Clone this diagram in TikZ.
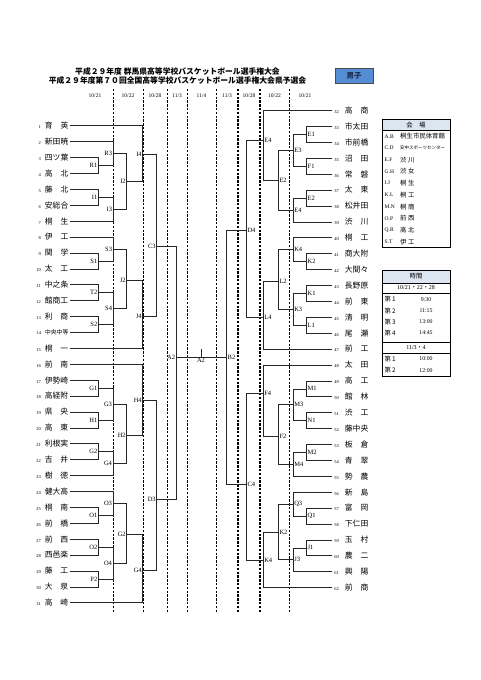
\documentclass[tikz,border=0pt]{standalone}
\usepackage{fontspec}
\setmainfont{Liberation Serif}
\newfontfamily\jp{Noto Sans CJK JP}
\usetikzlibrary{positioning}
\newcommand{\tnum}[1]{{\rmfamily\fontsize{4.5}{5}\selectfont #1}}
\definecolor{hdrblue}{RGB}{220,230,241}
\definecolor{boyblue}{RGB}{84,141,212}
\definecolor{boytext}{RGB}{30,45,80}

\begin{document}
\begin{tikzpicture}[x=1pt,y=-1pt,
  lteam/.style={anchor=east,inner xsep=1.5pt,inner ysep=0pt,font=\jp\fontsize{7.8}{8}\selectfont},
  rteam/.style={anchor=west,inner xsep=2.5pt,inner ysep=0pt,font=\jp\fontsize{7.8}{8}\selectfont},
  llab/.style={anchor=east,inner sep=0.8pt,font=\fontsize{6.5}{7}\selectfont},
  rlab/.style={anchor=west,inner sep=0.8pt,font=\fontsize{6.5}{7}\selectfont},
  br/.style={to path={-| (\tikztotarget)}},
  bline/.style={draw=black!85,line width=0.55pt},
  thindash/.style={draw=black,line width=0.7pt,dash pattern=on 2.4pt off 1.4pt},
  thickdash/.style={thindash,line width=1.2pt},
  datelab/.style={font=\fontsize{5.5}{6}\selectfont},
  vcode/.style={anchor=west,inner sep=0pt,font=\fontsize{5.5}{6}\selectfont},
  vname/.style={anchor=west,inner sep=0pt,font=\jp\fontsize{6.4}{7}\selectfont},
  ]
\useasboundingbox (0,0) rectangle (481,680);
\fill[white] (0,0) rectangle (481,680);

% title
\node[font=\jp\bfseries\fontsize{7.8}{8}\selectfont] (title1) at (177.5,71.7) {平成２９年度 群馬県高等学校バスケットボール選手権大会};
\node[font=\jp\bfseries\fontsize{7.8}{8}\selectfont] (title2) at (177.5,80.4) {平成２９年度第７０回全国高等学校バスケットボール選手権大会県予選会};
\node[draw=black!70,fill=boyblue,minimum width=38pt,minimum height=15pt,inner sep=0pt,
  font=\jp\bfseries\fontsize{7.5}{8}\selectfont,text=boytext] (boys) at (354,75.5) {男子};

% dates
\node[datelab] (d1) at (95,96) {10/21};
\node[datelab] (d2) at (128,96) {10/22};
\node[datelab] (d3) at (155,96) {10/28};
\node[datelab] (d4) at (177,96) {11/3};
\node[datelab] (d5) at (201.5,96) {11/4};
\node[datelab] (d6) at (227,96) {11/3};
\node[datelab] (d7) at (249,96) {10/28};
\node[datelab] (d8) at (274.5,96) {10/22};
\node[datelab] (d9) at (305,96) {10/21};

% day separators
\draw[thickdash] (113.5,89) -- (113.5,612);
\draw[thickdash] (143.5,89) -- (143.5,612);
\draw[thindash] (167,89) -- (167,612);
\draw[thindash] (187,89) -- (187,612);
\draw[thindash] (216,89) -- (216,612);
\draw[thickdash] (238,89) -- (238,612);
\draw[thickdash] (260,89) -- (260,612);
\draw[thickdash] (289.5,89) -- (289.5,612);

% left teams
\node[lteam] (t1) at (70,125.7) {\tnum{1}\hspace{4pt}育　英};
\node[lteam] (t2) at (70,141.6) {\tnum{2}\hspace{4pt}新田暁};
\node[lteam] (t3) at (70,157.5) {\tnum{3}\hspace{4pt}四ツ葉};
\node[lteam] (t4) at (70,173.4) {\tnum{4}\hspace{4pt}高　北};
\node[lteam] (t5) at (70,189.3) {\tnum{5}\hspace{4pt}藤　北};
\node[lteam] (t6) at (70,205.2) {\tnum{6}\hspace{4pt}安総合};
\node[lteam] (t7) at (70,221.1) {\tnum{7}\hspace{4pt}桐　生};
\node[lteam] (t8) at (70,237.0) {\tnum{8}\hspace{4pt}伊　工};
\node[lteam] (t9) at (70,252.9) {\tnum{9}\hspace{4pt}関　学};
\node[lteam] (t10) at (70,268.8) {\tnum{10}\hspace{4pt}太　工};
\node[lteam] (t11) at (70,284.7) {\tnum{11}\hspace{4pt}中之条};
\node[lteam] (t12) at (70,300.6) {\tnum{12}\hspace{4pt}館商工};
\node[lteam] (t13) at (70,316.5) {\tnum{13}\hspace{4pt}利　商};
\node[lteam] (t14) at (70,332.4) {\tnum{14}\hspace{4pt}{\fontsize{5.8}{6}\selectfont 中央中等}};
\node[lteam] (t15) at (70,348.3) {\tnum{15}\hspace{4pt}桐　一};
\node[lteam] (t16) at (70,364.2) {\tnum{16}\hspace{4pt}前　南};
\node[lteam] (t17) at (70,380.1) {\tnum{17}\hspace{4pt}伊勢崎};
\node[lteam] (t18) at (70,396.0) {\tnum{18}\hspace{4pt}高経附};
\node[lteam] (t19) at (70,411.9) {\tnum{19}\hspace{4pt}県　央};
\node[lteam] (t20) at (70,427.8) {\tnum{20}\hspace{4pt}高　東};
\node[lteam] (t21) at (70,443.7) {\tnum{21}\hspace{4pt}利根実};
\node[lteam] (t22) at (70,459.6) {\tnum{22}\hspace{4pt}吉　井};
\node[lteam] (t23) at (70,475.5) {\tnum{23}\hspace{4pt}樹　徳};
\node[lteam] (t24) at (70,491.4) {\tnum{24}\hspace{4pt}健大高};
\node[lteam] (t25) at (70,507.3) {\tnum{25}\hspace{4pt}桐　南};
\node[lteam] (t26) at (70,523.2) {\tnum{26}\hspace{4pt}前　橋};
\node[lteam] (t27) at (70,539.1) {\tnum{27}\hspace{4pt}前　西};
\node[lteam] (t28) at (70,555.0) {\tnum{28}\hspace{4pt}西邑楽};
\node[lteam] (t29) at (70,570.9) {\tnum{29}\hspace{4pt}藤　工};
\node[lteam] (t30) at (70,586.8) {\tnum{30}\hspace{4pt}大　泉};
\node[lteam] (t31) at (70,602.7) {\tnum{31}\hspace{4pt}高　崎};

% right teams
\node[rteam] (t32) at (331.7,110.5) {\tnum{32}\hspace{6pt}高　商};
\node[rteam] (t33) at (331.7,126.4) {\tnum{33}\hspace{6pt}市太田};
\node[rteam] (t34) at (331.7,142.3) {\tnum{34}\hspace{6pt}市前橋};
\node[rteam] (t35) at (331.7,158.2) {\tnum{35}\hspace{6pt}沼　田};
\node[rteam] (t36) at (331.7,174.1) {\tnum{36}\hspace{6pt}常　磐};
\node[rteam] (t37) at (331.7,190.0) {\tnum{37}\hspace{6pt}太　東};
\node[rteam] (t38) at (331.7,205.9) {\tnum{38}\hspace{6pt}松井田};
\node[rteam] (t39) at (331.7,221.8) {\tnum{39}\hspace{6pt}渋　川};
\node[rteam] (t40) at (331.7,237.7) {\tnum{40}\hspace{6pt}桐　工};
\node[rteam] (t41) at (331.7,253.6) {\tnum{41}\hspace{6pt}商大附};
\node[rteam] (t42) at (331.7,269.5) {\tnum{42}\hspace{6pt}大間々};
\node[rteam] (t43) at (331.7,285.4) {\tnum{43}\hspace{6pt}長野原};
\node[rteam] (t44) at (331.7,301.3) {\tnum{44}\hspace{6pt}前　東};
\node[rteam] (t45) at (331.7,317.2) {\tnum{45}\hspace{6pt}清　明};
\node[rteam] (t46) at (331.7,333.1) {\tnum{46}\hspace{6pt}尾　瀬};
\node[rteam] (t47) at (331.7,349.0) {\tnum{47}\hspace{6pt}前　工};
\node[rteam] (t48) at (331.7,364.9) {\tnum{48}\hspace{6pt}太　田};
\node[rteam] (t49) at (331.7,380.8) {\tnum{49}\hspace{6pt}高　工};
\node[rteam] (t50) at (331.7,396.7) {\tnum{50}\hspace{6pt}館　林};
\node[rteam] (t51) at (331.7,412.6) {\tnum{51}\hspace{6pt}渋　工};
\node[rteam] (t52) at (331.7,428.5) {\tnum{52}\hspace{6pt}藤中央};
\node[rteam] (t53) at (331.7,444.4) {\tnum{53}\hspace{6pt}板　倉};
\node[rteam] (t54) at (331.7,460.3) {\tnum{54}\hspace{6pt}青　翠};
\node[rteam] (t55) at (331.7,476.2) {\tnum{55}\hspace{6pt}勢　農};
\node[rteam] (t56) at (331.7,492.1) {\tnum{56}\hspace{6pt}新　島};
\node[rteam] (t57) at (331.7,508.0) {\tnum{57}\hspace{6pt}富　岡};
\node[rteam] (t58) at (331.7,523.9) {\tnum{58}\hspace{6pt}下仁田};
\node[rteam] (t59) at (331.7,539.8) {\tnum{59}\hspace{6pt}玉　村};
\node[rteam] (t60) at (331.7,555.7) {\tnum{60}\hspace{6pt}農　二};
\node[rteam] (t61) at (331.7,571.6) {\tnum{61}\hspace{6pt}興　陽};
\node[rteam] (t62) at (331.7,587.5) {\tnum{62}\hspace{6pt}前　商};

% left games
\coordinate (mR1) at (98.3,165.5);
\coordinate (mR3) at (113,153.5);
\coordinate (mI1) at (98.3,197.3);
\coordinate (mI3) at (113,209.2);
\coordinate (mI2) at (126.7,181.3);
\coordinate (mI4) at (142.7,154.3);
\coordinate (mS1) at (98.3,260.9);
\coordinate (mS3) at (113,249.5);
\coordinate (mT2) at (98.3,292.7);
\coordinate (mS2) at (98.3,324.5);
\coordinate (mS4) at (113,308.6);
\coordinate (mJ2) at (126.7,280);
\coordinate (mJ4) at (142.7,316);
\coordinate (mC3) at (156.7,246);
\coordinate (mG1) at (98.3,388);
\coordinate (mH1) at (98.3,419.9);
\coordinate (mG3) at (113,404);
\coordinate (mG2) at (98.3,451.7);
\coordinate (mG4) at (113,463.6);
\coordinate (mH2) at (126.7,435);
\coordinate (mH4) at (142.7,400.5);
\coordinate (mO1) at (98.3,515.3);
\coordinate (mO3) at (113,503.3);
\coordinate (mO2) at (98.3,547);
\coordinate (mP2) at (98.3,578.9);
\coordinate (mO4) at (113,563);
\coordinate (mGb2) at (126.7,534.5);
\coordinate (mGb4) at (142.7,570);
\coordinate (mD3) at (156.7,499.3);
\coordinate (mA2) at (176,357.5);

% right games
\coordinate (mE1) at (306.7,134.4);
\coordinate (mF1) at (306.7,166.2);
\coordinate (mE3) at (293.3,150.3);
\coordinate (mEa2) at (306.7,198);
\coordinate (mEa4) at (293.3,209.9);
\coordinate (mE2) at (278.5,180);
\coordinate (mE4) at (263.3,140);
\coordinate (mK2) at (306.7,261.6);
\coordinate (mKa4) at (293.3,249.6);
\coordinate (mK1) at (306.7,293.4);
\coordinate (mL1) at (306.7,325.2);
\coordinate (mK3) at (293.3,309.3);
\coordinate (mL2) at (278.5,281);
\coordinate (mL4) at (263.3,317.5);
\coordinate (mD4) at (246.5,230);
\coordinate (mM1) at (306.7,388.8);
\coordinate (mN1) at (306.7,420.6);
\coordinate (mM3) at (293.3,404.7);
\coordinate (mM2) at (306.7,452.4);
\coordinate (mM4) at (293.3,464.3);
\coordinate (mF2) at (278.5,436);
\coordinate (mF4) at (263.3,393);
\coordinate (mQ1) at (306.7,516);
\coordinate (mQ3) at (293.3,504);
\coordinate (mJ1) at (306.7,547.8);
\coordinate (mJ3) at (293.3,559.7);
\coordinate (mKb2) at (278.5,532);
\coordinate (mKb4) at (263.3,560);
\coordinate (mC4) at (246.5,484);
\coordinate (mB2) at (226.7,357.5);
\coordinate (fin) at (201,357.5);

\path[bline]
  (t3.east) edge[br] (mR1)
  (t4.east) edge[br] (mR1)
  (t2.east) edge[br] (mR3)
  (mR1) edge[br] (mR3)
  (t5.east) edge[br] (mI1)
  (t6.east) edge[br] (mI1)
  (mI1) edge[br] (mI3)
  (t7.east) edge[br] (mI3)
  (mR3) edge[br] (mI2)
  (mI3) edge[br] (mI2)
  (t1.east) edge[br] (mI4)
  (mI2) edge[br] (mI4)
  (t8.east) edge[br] (mS3)
  (t9.east) edge[br] (mS1)
  (t10.east) edge[br] (mS1)
  (mS1) edge[br] (mS3)
  (t11.east) edge[br] (mT2)
  (t12.east) edge[br] (mT2)
  (t13.east) edge[br] (mS2)
  (t14.east) edge[br] (mS2)
  (mT2) edge[br] (mS4)
  (mS2) edge[br] (mS4)
  (mS3) edge[br] (mJ2)
  (mS4) edge[br] (mJ2)
  (mJ2) edge[br] (mJ4)
  (t15.east) edge[br] (mJ4)
  (mI4) edge[br] (mC3)
  (mJ4) edge[br] (mC3)
  (t16.east) edge[br] (mH4)
  (t17.east) edge[br] (mG1)
  (t18.east) edge[br] (mG1)
  (t19.east) edge[br] (mH1)
  (t20.east) edge[br] (mH1)
  (mG1) edge[br] (mG3)
  (mH1) edge[br] (mG3)
  (t21.east) edge[br] (mG2)
  (t22.east) edge[br] (mG2)
  (mG2) edge[br] (mG4)
  (t23.east) edge[br] (mG4)
  (mG3) edge[br] (mH2)
  (mG4) edge[br] (mH2)
  (mH2) edge[br] (mH4)
  (t24.east) edge[br] (mO3)
  (t25.east) edge[br] (mO1)
  (t26.east) edge[br] (mO1)
  (mO1) edge[br] (mO3)
  (t27.east) edge[br] (mO2)
  (t28.east) edge[br] (mO2)
  (t29.east) edge[br] (mP2)
  (t30.east) edge[br] (mP2)
  (mO2) edge[br] (mO4)
  (mP2) edge[br] (mO4)
  (mO3) edge[br] (mGb2)
  (mO4) edge[br] (mGb2)
  (mGb2) edge[br] (mGb4)
  (t31.east) edge[br] (mGb4)
  (mH4) edge[br] (mD3)
  (mGb4) edge[br] (mD3)
  (mC3) edge[br] (mA2)
  (mD3) edge[br] (mA2);

\path[bline]
  (t32.west) edge[br] (mE4)
  (t33.west) edge[br] (mE1)
  (t34.west) edge[br] (mE1)
  (t35.west) edge[br] (mF1)
  (t36.west) edge[br] (mF1)
  (mE1) edge[br] (mE3)
  (mF1) edge[br] (mE3)
  (t37.west) edge[br] (mEa2)
  (t38.west) edge[br] (mEa2)
  (mEa2) edge[br] (mEa4)
  (t39.west) edge[br] (mEa4)
  (mE3) edge[br] (mE2)
  (mEa4) edge[br] (mE2)
  (mE2) edge[br] (mE4)
  (t40.west) edge[br] (mKa4)
  (t41.west) edge[br] (mK2)
  (t42.west) edge[br] (mK2)
  (mK2) edge[br] (mKa4)
  (t43.west) edge[br] (mK1)
  (t44.west) edge[br] (mK1)
  (t45.west) edge[br] (mL1)
  (t46.west) edge[br] (mL1)
  (mK1) edge[br] (mK3)
  (mL1) edge[br] (mK3)
  (mKa4) edge[br] (mL2)
  (mK3) edge[br] (mL2)
  (mL2) edge[br] (mL4)
  (t47.west) edge[br] (mL4)
  (mE4) edge[br] (mD4)
  (mL4) edge[br] (mD4)
  (t48.west) edge[br] (mF4)
  (t49.west) edge[br] (mM1)
  (t50.west) edge[br] (mM1)
  (t51.west) edge[br] (mN1)
  (t52.west) edge[br] (mN1)
  (mM1) edge[br] (mM3)
  (mN1) edge[br] (mM3)
  (t53.west) edge[br] (mM2)
  (t54.west) edge[br] (mM2)
  (mM2) edge[br] (mM4)
  (t55.west) edge[br] (mM4)
  (mM3) edge[br] (mF2)
  (mM4) edge[br] (mF2)
  (mF2) edge[br] (mF4)
  (t56.west) edge[br] (mQ3)
  (t57.west) edge[br] (mQ1)
  (t58.west) edge[br] (mQ1)
  (mQ1) edge[br] (mQ3)
  (t59.west) edge[br] (mJ1)
  (t60.west) edge[br] (mJ1)
  (mJ1) edge[br] (mJ3)
  (t61.west) edge[br] (mJ3)
  (mQ3) edge[br] (mKb2)
  (mJ3) edge[br] (mKb2)
  (mKb2) edge[br] (mKb4)
  (t62.west) edge[br] (mKb4)
  (mF4) edge[br] (mC4)
  (mKb4) edge[br] (mC4)
  (mD4) edge[br] (mB2)
  (mC4) edge[br] (mB2)
  (mA2) edge (mB2)
  (fin) edge ++(0,-8.5);

% game labels
\node[llab] (lR1) at (mR1) {R1};
\node[llab] (lR3) at (mR3) {R3};
\node[llab] (lI1) at (mI1) {I1};
\node[llab] (lI3) at (mI3) {I3};
\node[llab] (lI2) at (mI2) {I2};
\node[llab] (lI4) at (mI4) {I4};
\node[llab] (lS1) at (mS1) {S1};
\node[llab] (lS3) at (mS3) {S3};
\node[llab] (lT2) at (mT2) {T2};
\node[llab] (lS2) at (mS2) {S2};
\node[llab] (lS4) at (mS4) {S4};
\node[llab] (lJ2) at (mJ2) {J2};
\node[llab] (lJ4) at (mJ4) {J4};
\node[llab] (lC3) at (mC3) {C3};
\node[llab] (lG1) at (mG1) {G1};
\node[llab] (lH1) at (mH1) {H1};
\node[llab] (lG3) at (mG3) {G3};
\node[llab] (lG2) at (mG2) {G2};
\node[llab] (lG4) at (mG4) {G4};
\node[llab] (lH2) at (mH2) {H2};
\node[llab] (lH4) at (mH4) {H4};
\node[llab] (lO1) at (mO1) {O1};
\node[llab] (lO3) at (mO3) {O3};
\node[llab] (lO2) at (mO2) {O2};
\node[llab] (lP2) at (mP2) {P2};
\node[llab] (lO4) at (mO4) {O4};
\node[llab] (lGb2) at (mGb2) {G2};
\node[llab] (lGb4) at (mGb4) {G4};
\node[llab] (lD3) at (mD3) {D3};
\node[llab] (lA2) at (mA2) {A2};
\node[rlab] (lE1) at (mE1) {E1};
\node[rlab] (lF1) at (mF1) {F1};
\node[rlab] (lE3) at (mE3) {E3};
\node[rlab] (lEa2) at (mEa2) {E2};
\node[rlab] (lEa4) at (mEa4) {E4};
\node[rlab] (lE2) at (mE2) {E2};
\node[rlab] (lE4) at (mE4) {E4};
\node[rlab] (lK2) at (mK2) {K2};
\node[rlab] (lKa4) at (mKa4) {K4};
\node[rlab] (lK1) at (mK1) {K1};
\node[rlab] (lL1) at (mL1) {L1};
\node[rlab] (lK3) at (mK3) {K3};
\node[rlab] (lL2) at (mL2) {L2};
\node[rlab] (lL4) at (mL4) {L4};
\node[rlab] (lD4) at (mD4) {D4};
\node[rlab] (lM1) at (mM1) {M1};
\node[rlab] (lN1) at (mN1) {N1};
\node[rlab] (lM3) at (mM3) {M3};
\node[rlab] (lM2) at (mM2) {M2};
\node[rlab] (lM4) at (mM4) {M4};
\node[rlab] (lF2) at (mF2) {F2};
\node[rlab] (lF4) at (mF4) {F4};
\node[rlab] (lQ1) at (mQ1) {Q1};
\node[rlab] (lQ3) at (mQ3) {Q3};
\node[rlab] (lJ1) at (mJ1) {J1};
\node[rlab] (lJ3) at (mJ3) {J3};
\node[rlab] (lKb2) at (mKb2) {K2};
\node[rlab] (lKb4) at (mKb4) {K4};
\node[rlab] (lC4) at (mC4) {C4};
\node[rlab] (lB2) at (mB2) {B2};
\node[anchor=north,inner sep=0.8pt,font=\fontsize{6.5}{7}\selectfont] (lfin) at (fin) {A2};

% venue table
\draw[fill=hdrblue,line width=0.4pt] (382,119) rectangle (450,130.5);
\draw[line width=0.9pt] (382,119) rectangle (450,247.5);
\node[font=\jp\fontsize{6.4}{7}\selectfont] (vhead) at (416,124.8) {会　場};
\node[vcode] (v1) at (384.5,136.4) {A.B};
\node[vname] (vn1) at (400,136.4) {桐生市民体育館};
\node[vcode] (v2) at (384.5,148.1) {C.D};
\node[vname,font=\jp\fontsize{4.5}{5}\selectfont] (vn2) at (400,148.1) {安中スポーツセンター};
\node[vcode] (v3) at (384.5,159.8) {E.F};
\node[vname] (vn3) at (400,159.8) {渋 川};
\node[vcode] (v4) at (384.5,171.5) {G.H};
\node[vname] (vn4) at (400,171.5) {渋 女};
\node[vcode] (v5) at (384.5,183.2) {I.J};
\node[vname] (vn5) at (400,183.2) {桐 生};
\node[vcode] (v6) at (384.5,194.9) {K.L};
\node[vname] (vn6) at (400,194.9) {桐 工};
\node[vcode] (v7) at (384.5,206.6) {M.N};
\node[vname] (vn7) at (400,206.6) {桐 商};
\node[vcode] (v8) at (384.5,218.3) {O.P};
\node[vname] (vn8) at (400,218.3) {前 西};
\node[vcode] (v9) at (384.5,230) {Q.R};
\node[vname] (vn9) at (400,230) {高 北};
\node[vcode] (v10) at (384.5,241.7) {S.T};
\node[vname] (vn10) at (400,241.7) {伊 工};

% time table
\draw[fill=hdrblue,line width=0.4pt] (382,270) rectangle (450,282.7);
\draw[line width=0.4pt] (382,293.3) -- (450,293.3);
\draw[line width=0.4pt] (382,341.7) -- (450,341.7);
\draw[line width=0.4pt] (382,353.3) -- (450,353.3);
\draw[line width=0.9pt] (382,270) rectangle (450,376.7);
\node[font=\jp\fontsize{6.4}{7}\selectfont] (thead) at (416,276.4) {時間};
\node[font=\fontsize{6}{7}\selectfont] (tday1) at (416,288) {10/21{\jp ・}22{\jp ・}28};
\node[vname] (s1) at (384.5,299.3) {第\,1};
\node[font=\fontsize{5.8}{6}\selectfont] (h1) at (426,299.3) {9:30};
\node[vname] (s2) at (384.5,310.6) {第\,2};
\node[font=\fontsize{5.8}{6}\selectfont] (h2) at (426,310.6) {11:15};
\node[vname] (s3) at (384.5,321.8) {第\,3};
\node[font=\fontsize{5.8}{6}\selectfont] (h3) at (426,321.8) {13:00};
\node[vname] (s4) at (384.5,333) {第\,4};
\node[font=\fontsize{5.8}{6}\selectfont] (h4) at (426,333) {14:45};
\node[font=\fontsize{6}{7}\selectfont] (tday2) at (416,347.5) {11/3{\jp ・}4};
\node[vname] (s5) at (384.5,359) {第\,1};
\node[font=\fontsize{5.8}{6}\selectfont] (h5) at (426,359) {10:00};
\node[vname] (s6) at (384.5,370.2) {第\,2};
\node[font=\fontsize{5.8}{6}\selectfont] (h6) at (426,370.2) {12:00};
\end{tikzpicture}
\end{document}
